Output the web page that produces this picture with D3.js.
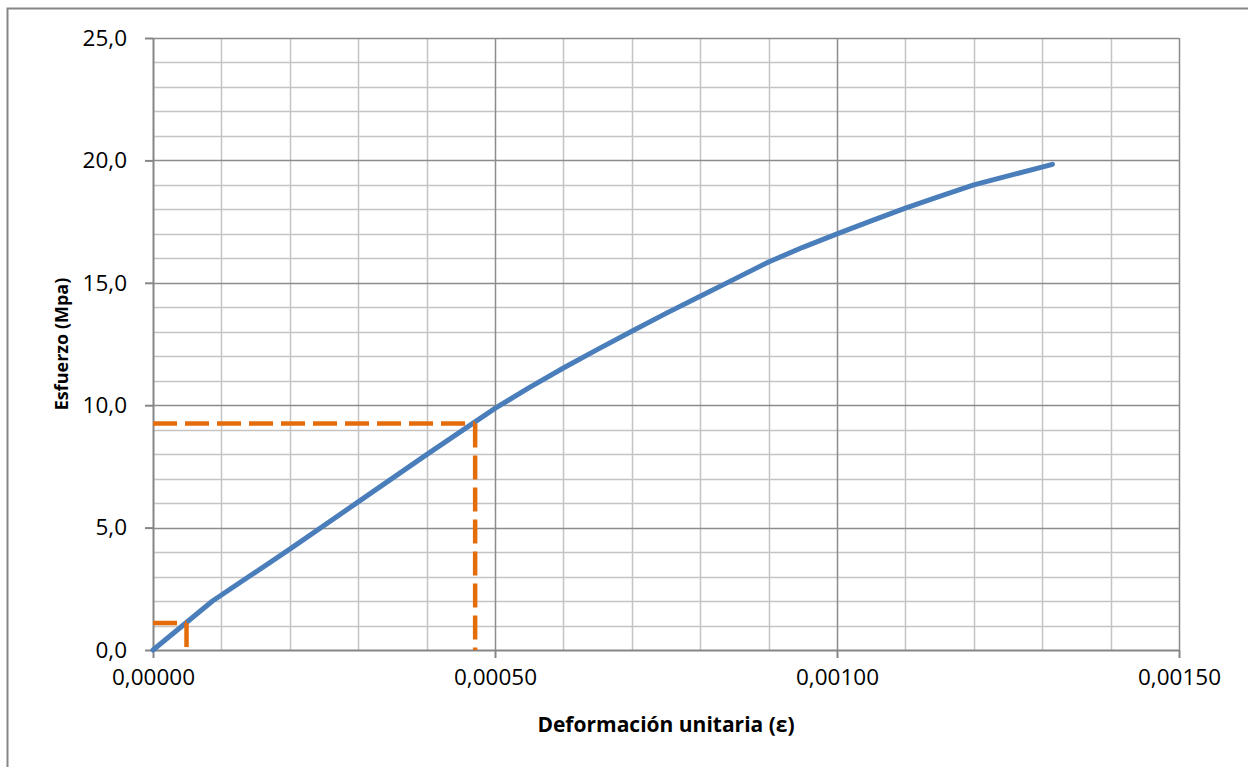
<!DOCTYPE html>
<html>
<head>
<meta charset="utf-8">
<script src="https://cdn.jsdelivr.net/npm/d3@7"></script>
<style>
  html, body { margin: 0; padding: 0; background: #ffffff; }
  svg { display: block; }
  text { font-family: "Open Sans", "Noto Sans", sans-serif; fill: #000; }
</style>
</head>
<body>
<svg id="chart" width="1248" height="767"></svg>
<script>
// Stress–strain curve readings
const strain = [0, 0.000087, 0.0002, 0.0003, 0.0004, 0.0005, 0.00055, 0.0006, 0.00065, 0.0007, 0.00075, 0.0008,
                0.00085, 0.0009, 0.00095, 0.0010, 0.00105, 0.0011, 0.00115, 0.0012, 0.00126, 0.001315];
const stress = [0, 2.0, 4.12, 6.05, 7.98, 9.87, 10.72, 11.52, 12.28, 13.02, 13.75, 14.45,
                15.15, 15.85, 16.45, 17.0, 17.53, 18.05, 18.53, 19.0, 19.44, 19.84];

// Reference readings (dashed guides)
const refStrain = [0.000049, 0.000471];
const refStress = [1.1, 9.25];

// Axis ticks
const xTicks = [0, 0.0005, 0.0010, 0.0015];
const xTickLabels = ["0,00000", "0,00050", "0,00100", "0,00150"];
const yTicks = [0, 5, 10, 15, 20, 25];
const yTickLabels = ["0,0", "5,0", "10,0", "15,0", "20,0", "25,0"];
const xMinor = d3.range(0, 16).map(i => i * 0.0001);
const yMinor = d3.range(0, 26);

const xTitle = "Deformación unitaria (ε)";
const yTitle = "Esfuerzo (Mpa)";

const svg = d3.select("#chart");
const plot = { left: 153, right: 1179, top: 38, bottom: 650 };

// Outer chart frame
svg.append("rect")
  .attr("x", 7.5).attr("y", 8.5)
  .attr("width", 1260).attr("height", 800)
  .attr("fill", "#fff").attr("stroke", "#868686").attr("stroke-width", 2);

const x = d3.scaleLinear().domain([0, 0.0015]).range([plot.left, plot.right]);
const y = d3.scaleLinear().domain([0, 25]).range([plot.bottom, plot.top]);

// Minor gridlines
const grid = svg.append("g");
grid.selectAll(".vx").data(xMinor.filter(v => !xTicks.some(t => Math.abs(t - v) < 1e-9)))
  .join("line")
  .attr("x1", d => Math.round(x(d)) + 0.5).attr("x2", d => Math.round(x(d)) + 0.5)
  .attr("y1", plot.top).attr("y2", plot.bottom)
  .attr("stroke", "#c4c4c4").attr("stroke-width", 1.5);
grid.selectAll(".hy").data(yMinor.filter(v => v % 5 !== 0))
  .join("line")
  .attr("y1", d => Math.round(y(d)) + 0.5).attr("y2", d => Math.round(y(d)) + 0.5)
  .attr("x1", plot.left).attr("x2", plot.right)
  .attr("stroke", "#c4c4c4").attr("stroke-width", 1.5);

// Major gridlines
grid.selectAll(".vmaj").data(xTicks.slice(1))
  .join("line")
  .attr("x1", d => Math.round(x(d)) + 0.5).attr("x2", d => Math.round(x(d)) + 0.5)
  .attr("y1", plot.top).attr("y2", plot.bottom)
  .attr("stroke", "#8c8c8c").attr("stroke-width", 1.5);
grid.selectAll(".hmaj").data(yTicks.slice(1))
  .join("line")
  .attr("y1", d => Math.round(y(d)) + 0.5).attr("y2", d => Math.round(y(d)) + 0.5)
  .attr("x1", plot.left).attr("x2", plot.right)
  .attr("stroke", "#8c8c8c").attr("stroke-width", 1.5);

// Axes
const xAxis = d3.axisBottom(x).tickValues(xTicks)
  .tickFormat((d, i) => xTickLabels[i]).tickSizeInner(8).tickSizeOuter(0).tickPadding(11);
const yAxis = d3.axisLeft(y).tickValues(yTicks)
  .tickFormat((d, i) => yTickLabels[i]).tickSizeInner(8).tickSizeOuter(0).tickPadding(18);

const gx = svg.append("g").attr("transform", `translate(0,${plot.bottom})`).call(xAxis);
const gy = svg.append("g").attr("transform", `translate(${plot.left},0)`).call(yAxis);
[gx, gy].forEach(g => {
  g.select(".domain").attr("stroke", "#868686").attr("stroke-width", 2);
  g.selectAll(".tick line").attr("stroke", "#868686").attr("stroke-width", 2);
  g.selectAll(".tick text").attr("font-size", 22.5).attr("font-family", "Open Sans").attr("fill", "#000");
});

// Curve
const line = d3.line()
  .x((d, i) => x(strain[i])).y((d, i) => y(stress[i]));
svg.append("path")
  .datum(stress)
  .attr("d", line)
  .attr("fill", "none")
  .attr("stroke", "#4a7ebb")
  .attr("stroke-width", 5)
  .attr("stroke-linejoin", "round")
  .attr("stroke-linecap", "round");

// Dashed guides: horizontal to the curve, then down to the strain axis
refStrain.forEach((e, i) => {
  const s = refStress[i];
  const g = svg.append("g").attr("fill", "none").attr("stroke", "#e46c0a")
    .attr("stroke-width", 4.5).attr("stroke-dasharray", "24,8");
  g.append("path").attr("d", d3.line()([[x(0), y(s)], [x(e), y(s)]]));
  g.append("path").attr("d", d3.line()([[x(e), y(s)], [x(e), y(0)]]));
});

// Axis titles
svg.append("text")
  .attr("x", (plot.left + plot.right) / 2).attr("y", 732)
  .attr("text-anchor", "middle").attr("font-size", 21).attr("font-weight", "bold")
  .text(xTitle);
svg.append("text")
  .attr("transform", `translate(68,${(plot.top + plot.bottom) / 2}) rotate(-90)`)
  .attr("text-anchor", "middle").attr("font-size", 18).attr("font-weight", "bold")
  .text(yTitle);
</script>
</body>
</html>
